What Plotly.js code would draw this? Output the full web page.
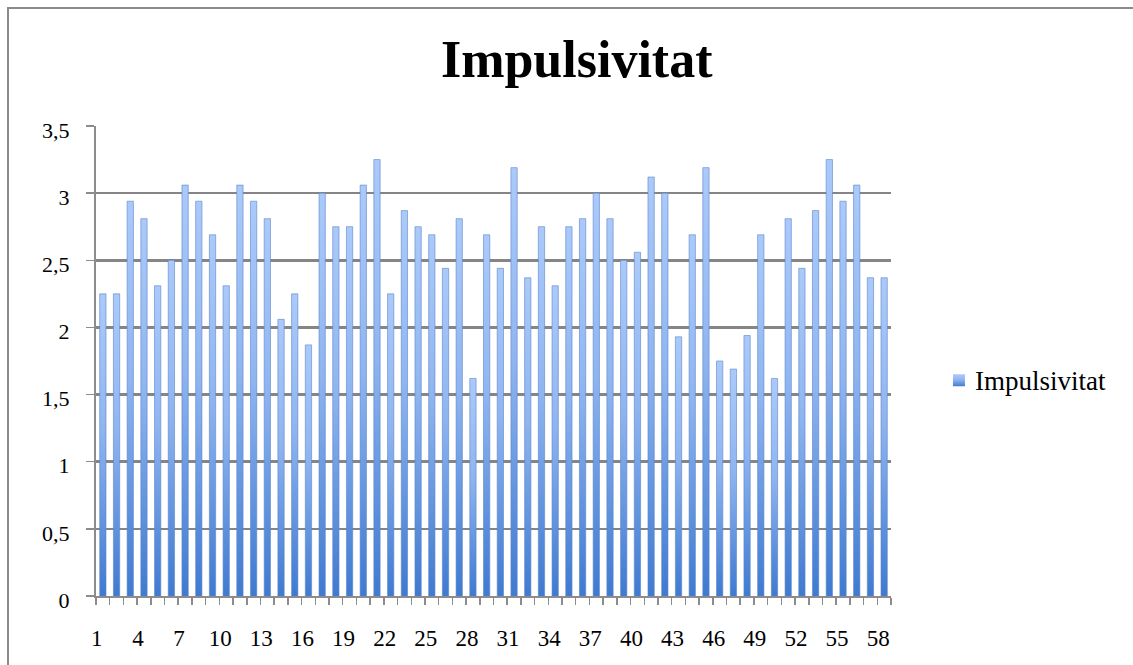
<!DOCTYPE html>
<html>
<head>
<meta charset="utf-8">
<script src="https://cdn.plot.ly/plotly-3.0.1.min.js"></script>
<style>
html,body{margin:0;padding:0;background:#fff;width:1133px;height:665px;overflow:hidden;}
#frame{position:absolute;left:7px;top:7px;width:1200px;height:700px;border-left:2px solid #8a8a8a;border-top:2px solid #8a8a8a;pointer-events:none;z-index:5;}
#chart{position:absolute;left:0;top:0;width:1133px;height:665px;}
</style>
</head>
<body>
<div id="chart"></div>
<div id="frame"></div>
<script>
const categories = [];
for (let i = 1; i <= 58; i++) categories.push(i);

const impulsivitat = [
  2.25, 2.25, 2.94, 2.81, 2.31, 2.5, 3.06, 2.94, 2.69, 2.31,
  3.06, 2.94, 2.81, 2.06, 2.25, 1.87, 3.0, 2.75, 2.75, 3.06,
  3.25, 2.25, 2.87, 2.75, 2.69, 2.44, 2.81, 1.62, 2.69, 2.44,
  3.19, 2.37, 2.75, 2.31, 2.75, 2.81, 3.0, 2.81, 2.5, 2.56,
  3.12, 3.0, 1.93, 2.69, 3.19, 1.75, 1.69, 1.94, 2.69, 1.62,
  2.81, 2.44, 2.87, 3.25, 2.94, 3.06, 2.37, 2.37
];

const xTickValues = [1,4,7,10,13,16,19,22,25,28,31,34,37,40,43,46,49,52,55,58];
const xTickLabels = ['1','4','7','10','13','16','19','22','25','28','31','34','37','40','43','46','49','52','55','58'];

const seriesName = 'Impulsivitat';
const chartTitle = 'Impulsivitat';

const serif = 'Liberation Serif, DejaVu Serif, serif';

const trace = {
  type: 'bar',
  x: categories,
  y: impulsivitat,
  name: seriesName,
  marker: {color: '#7ea8ea', line: {color: '#5b84c6', width: 0.6}},
  hoverinfo: 'x+y'
};

const layout = {
  width: 1133,
  height: 665,
  margin: {l: 96, r: 242, t: 126, b: 69},
  paper_bgcolor: '#ffffff',
  plot_bgcolor: '#ffffff',
  separators: ',.',
  showlegend: true,
  bargap: 0.54,
  title: {
    text: '<b>' + chartTitle + '</b>',
    font: {family: serif, size: 52, color: '#000'},
    x: 0.509, xanchor: 'center', xref: 'container',
    y: 0.912, yanchor: 'middle', yref: 'container'
  },
  font: {family: serif, size: 22, color: '#000'},
  xaxis: {
    range: [0.5, 58.5],
    tickmode: 'array',
    tickvals: xTickValues,
    ticktext: xTickLabels,
    ticks: '',
    showgrid: false,
    zeroline: false,
    showline: true,
    linecolor: '#8c8c8c',
    linewidth: 2,
    tickfont: {family: serif, size: 23, color: '#000'},
    ticklabelstandoff: 20,
    ticklabelshift: -6,
    minor: {ticks: 'outside', tick0: 0.5, dtick: 1, ticklen: 7, tickcolor: '#8c8c8c', tickwidth: 1.5, showgrid: false}
  },
  yaxis: {
    range: [0, 3.5],
    dtick: 0.5,
    tick0: 0,
    showgrid: true,
    gridcolor: '#858585',
    gridwidth: 2.5,
    zeroline: false,
    showline: true,
    linecolor: '#8c8c8c',
    linewidth: 2,
    ticks: 'outside',
    ticklen: 8,
    tickcolor: '#8c8c8c',
    tickwidth: 1.5,
    tickfont: {family: serif, size: 22, color: '#000'},
    ticklabelstandoff: 12,
    ticklabelshift: 4
  },
  legend: {
    x: 1.0553, xanchor: 'left',
    y: 0.459, yanchor: 'middle',
    font: {family: serif, size: 27, color: '#000'},
    bgcolor: 'rgba(0,0,0,0)',
    itemwidth: 30
  }
};

function applyGradient(gd) {
  const svg = gd.querySelector('svg.main-svg');
  if (!svg) return;
  const ns = 'http://www.w3.org/2000/svg';
  let defs = svg.querySelector('defs');
  if (!defs) { defs = document.createElementNS(ns, 'defs'); svg.insertBefore(defs, svg.firstChild); }
  if (!svg.querySelector('#barGrad')) {
    const g = document.createElementNS(ns, 'linearGradient');
    g.setAttribute('id', 'barGrad');
    g.setAttribute('x1', '0'); g.setAttribute('y1', '0');
    g.setAttribute('x2', '0'); g.setAttribute('y2', '1');
    [['0', '#abcafb'], ['0.45', '#8fb5f1'], ['1', '#3f7ad1']].forEach(function (s) {
      const st = document.createElementNS(ns, 'stop');
      st.setAttribute('offset', s[0]);
      st.setAttribute('stop-color', s[1]);
      g.appendChild(st);
    });
    defs.appendChild(g);
  }
  gd.querySelectorAll('.bars .point path').forEach(function (p) {
    p.style.fill = 'url(#barGrad)';
  });
  const txt = gd.querySelector('.legendtext');
  gd.querySelectorAll('.legendpoints path').forEach(function (p) {
    p.style.fill = 'url(#barGrad)';
    p.style.stroke = 'none';
    p.removeAttribute('transform');
    p.setAttribute('d', 'M6,6H-6V-6H6Z');
    if (txt) {
      const tr = txt.getBoundingClientRect();
      const pr = p.getBoundingClientRect();
      const dx = (tr.left - 10) - pr.right;
      const dy = (tr.top + tr.height / 2) - (pr.top + pr.height / 2) - 1;
      p.setAttribute('transform', 'translate(' + dx.toFixed(1) + ',' + dy.toFixed(1) + ')');
    }
  });
}

const gd = document.getElementById('chart');
Plotly.newPlot(gd, [trace], layout, {displayModeBar: false, staticPlot: true}).then(function () {
  applyGradient(gd);
});
</script>
</body>
</html>
